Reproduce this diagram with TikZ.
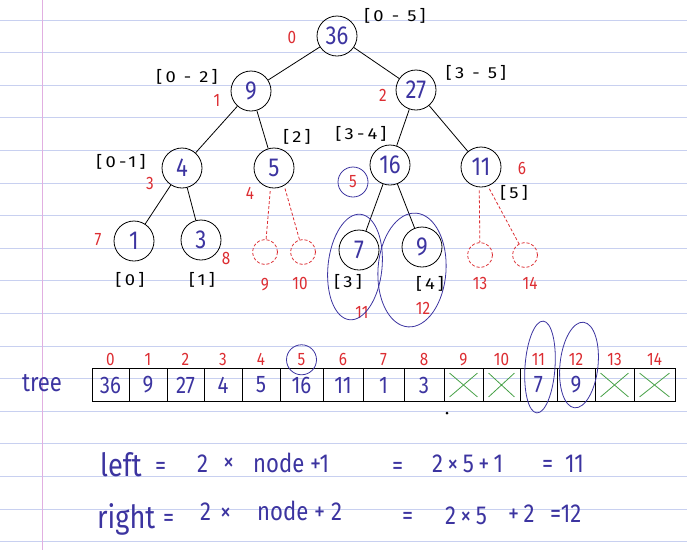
\documentclass[tikz,border=0pt]{standalone}
\usepackage{fontspec}
\setmainfont[FakeStretch=0.85]{Fira Sans}
\newfontfamily\rangefont[FakeStretch=1.15,LetterSpace=20]{Fira Sans}
\usepackage{tikz}
\usetikzlibrary{positioning}

\definecolor{penblue}{RGB}{60,52,160}
\definecolor{penred}{RGB}{220,45,50}
\definecolor{pengreen}{RGB}{70,160,70}
\definecolor{ruleblue}{RGB}{200,208,240}
\definecolor{marginpink}{RGB}{225,175,225}

\tikzset{
  treenode/.style={circle,draw,thick,minimum size=40,inner sep=0pt,text=penblue,font=\fontsize{26}{26}\selectfont},
  ghostnode/.style={circle,draw=penred,densely dashed,thick,minimum size=25,inner sep=0pt},
  rangelab/.style={font=\rangefont\fontsize{16}{16}\selectfont},
  idxlab/.style={text=penred,font=\fontsize{18}{18}\selectfont},
  cell/.style={draw,thick,minimum height=33,inner sep=0pt,text=penblue,font=\fontsize{24}{24}\selectfont},
  eqtext/.style={anchor=base west,text=penblue,inner sep=0pt,font=\fontsize{26}{26}\selectfont},
  pencircle/.style={draw=penblue,thick},
  dashedge/.style={draw=penred,densely dashed,thick,shorten <=3},
  crossmark/.style={draw=pengreen,thick}
}

\begin{document}
\begin{tikzpicture}[x=1pt,y=-1pt]
      \useasboundingbox (0,0) rectangle (687,550);

      \foreach \k in {0,...,16}
        \draw [ruleblue,thick] (0,20+32.6*\k) to (687,20+32.6*\k);
      \draw [marginpink,thick] (42.5,0) to (42.5,550);

      \node [treenode] (n0) at (337,36) {36};
      \node [treenode] (n1) at (251,91) {9};
      \node [treenode] (n2) at (416,90) {27};
      \node [treenode] (n3) at (182,168) {4};
      \node [treenode] (n4) at (274,168) {5};
      \node [treenode] (n5) at (390,165) {16};
      \node [treenode] (n6) at (481,167) {11};
      \node [treenode] (n7) at (134,241) {1};
      \node [treenode] (n8) at (201,240) {3};
      \node [treenode] (n11) at (359,250) {7};
      \node [treenode] (n12) at (422,247) {9};

      \node [ghostnode] (n9) at (265,252) {};
      \node [ghostnode] (n10) at (303,252) {};
      \node [ghostnode] (n13) at (480,255) {};
      \node [ghostnode] (n14) at (525,255) {};

      \draw [thick] (n0) to (n1);
      \draw [thick] (n0) to (n2);
      \draw [thick] (n1) to (n3);
      \draw [thick] (n1) to (n4);
      \draw [thick] (n2) to (n5);
      \draw [thick] (n2) to (n6);
      \draw [thick] (n3) to (n7);
      \draw [thick] (n3) to (n8);
      \draw [thick] (n5) to (n11);
      \draw [thick] (n5) to (n12);

      \draw [dashedge] (n4.-100) to (n9);
      \draw [dashedge] (n4.-60) to (n10);
      \draw [dashedge] (n6.-95) to (n13);
      \draw [dashedge] (n6.-70) to (n14);

      \node [rangelab] at (395,16) {[0 - 5]};
      \node [rangelab] at (187,77) {[0 - 2]};
      \node [rangelab] at (476,73) {[3 - 5]};
      \node [rangelab] at (121,162) {[0-1]};
      \node [rangelab] at (297,137) {[2]};
      \node [rangelab] at (361,134) {[3-4]};
      \node [rangelab] at (514,193) {[5]};
      \node [rangelab] at (130,280) {[0]};
      \node [rangelab] at (202,280) {[1]};
      \node [rangelab] at (348,282) {[3]};
      \node [rangelab] at (430,284) {[4]};

      \node [idxlab] at (292,37) {0};
      \node [idxlab] at (217,100) {1};
      \node [idxlab] at (383,95) {2};
      \node [idxlab] at (150,183) {3};
      \node [idxlab] at (250,193) {4};
      \node [idxlab] (i5) at (353,182) {5};
      \node [idxlab] at (522,168) {6};
      \node [idxlab] at (98,240) {7};
      \node [idxlab] at (226,258) {8};
      \node [idxlab] at (265,285) {9};
      \node [idxlab] at (300,283) {10};
      \node [idxlab] at (362,312) {11};
      \node [idxlab] at (423,308) {12};
      \node [idxlab] at (480,283) {13};
      \node [idxlab] at (530,283) {14};

      \draw [pencircle] (i5) circle [radius=15];
      \draw [pencircle,rotate around={-6:(355,267)}] (355,267) ellipse [x radius=27,y radius=53];
      \draw [pencircle,rotate around={-4:(412,270)}] (412,270) ellipse [x radius=34,y radius=57];

      \node [text=penblue,font=\fontsize{26}{26}\selectfont] (treelab) at (42,383) {tree};

      \foreach \i/\l/\r/\v in {0/92/129/36,1/129/167/9,2/167/204/27,3/204/242/4,4/242/280/5,
                               5/280/323/16,6/323/363/11,7/363/404/1,8/404/444/3,9/444/483/,
                               10/483/520/,11/520/557/7,12/557/595/9,13/595/634/,14/634/675/}
      {
        \node [cell,minimum width={(\r-\l)*1pt}] (c\i) at ({(\l+\r)/2},385) {\v};
        \node [idxlab,above=2pt of c\i.north,inner sep=0pt] (a\i) {\i};
      }

      \foreach \i in {9,10,13,14}
        \draw [crossmark] ([shift={(6,-5)}]c\i.south west) to ([shift={(-6,5)}]c\i.north east)
                          ([shift={(6,5)}]c\i.north west) to ([shift={(-6,-5)}]c\i.south east);

      \draw [pencircle] (a5) circle [radius=15];
      \draw [pencircle,rotate around={-4:(540,367)}] (540,367) ellipse [x radius=15,y radius=46];
      \draw [pencircle,rotate around={-6:(579,365)}] (579,365) ellipse [x radius=19,y radius=43];

      \fill (447,413) circle [radius=1.5];

      \node [eqtext,font=\fontsize{32}{32}\selectfont] (lft) at (100,476) {left};
      \node [eqtext] at (155,474) {=};
      \node [eqtext] at (197,472) {2};
      \node [eqtext] at (223,470) {×};
      \node [eqtext] at (253,472) {node};
      \node [eqtext] at (310,472) {+1};
      \node [eqtext] at (392,474) {=};
      \node [eqtext] at (432,472) {2\,×\,5\,+\,1};
      \node [eqtext] at (542,472) {=};
      \node [eqtext] at (565,472) {11};

      \node [eqtext,font=\fontsize{32}{32}\selectfont] (rgt) at (97,528) {right};
      \node [eqtext] at (163,526) {=};
      \node [eqtext] at (200,520) {2};
      \node [eqtext] at (220,520) {×};
      \node [eqtext] at (257,520) {node};
      \node [eqtext] at (314,520) {+ 2};
      \node [eqtext] at (402,524) {=};
      \node [eqtext] at (445,524) {2\,×\,5};
      \node [eqtext] at (508,522) {+\,2};
      \node [eqtext] at (550,522) {=12};

    \end{tikzpicture}
\end{document}
